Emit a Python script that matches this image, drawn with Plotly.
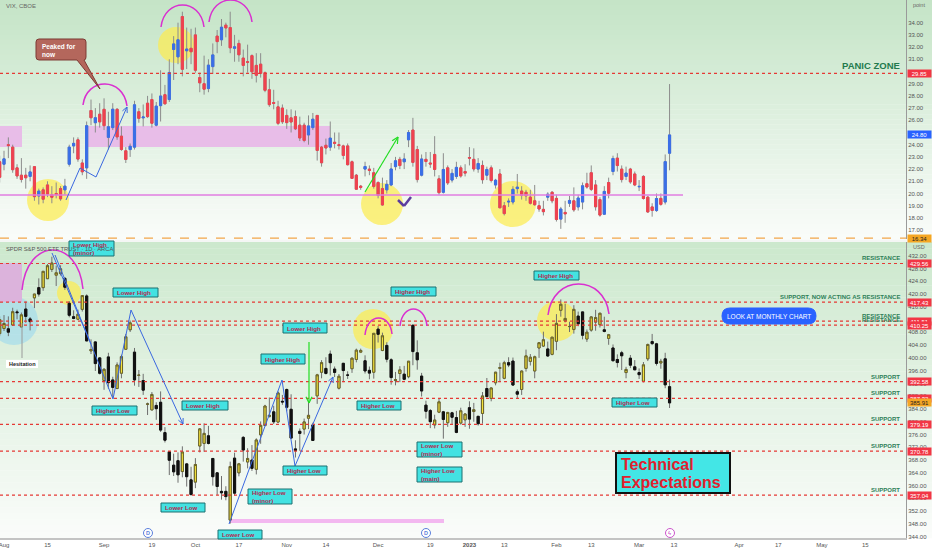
import math
import pandas as pd
import plotly.graph_objects as go

# ---------------- calendar ----------------
holidays = ["2022-09-05", "2022-11-24", "2022-12-26", "2023-01-02", "2023-01-16",
            "2023-02-20", "2023-04-07", "2023-05-29"]
days = pd.bdate_range("2022-07-29", "2023-05-31")
days = days[~days.isin(pd.to_datetime(holidays))]

tick_dates = ["2022-08-01", "2022-08-15", "2022-09-01", "2022-09-19", "2022-10-03", "2022-10-17",
              "2022-11-01", "2022-11-14", "2022-12-01", "2022-12-19", "2023-01-03", "2023-01-13",
              "2023-02-01", "2023-02-13", "2023-03-01", "2023-03-13", "2023-04-03", "2023-04-17",
              "2023-05-01", "2023-05-15"]
tick_text = ["Aug", "15", "Sep", "19", "Oct", "17", "Nov", "14", "Dec", "19", "<b>2023</b>", "13",
             "Feb", "13", "Mar", "13", "Apr", "17", "May", "15"]

# ---------------- VIX (Jul 29 2022 .. Mar 10 2023) ----------------
vix_open = [22.6,
    22.4, 24.0, 23.8, 22.1, 21.5, 21.5, 21.4, 22.2, 19.8, 20.3, 20.7, 19.9, 20.0, 20.4, 20.3, 22.4, 23.9, 24.4, 22.5, 22.1, 26.8, 25.8, 26.5,
    26.9, 24.6, 25.4, 26.9, 24.7, 23.5, 23.6, 23.8, 26.7, 26.2, 27.4, 27.7, 25.6, 27.2, 28.1, 27.7, 31.8, 31.2, 34.5, 31.7, 31.9,
    33.0, 29.5, 29.0, 28.6, 30.4, 32.9, 32.6, 33.8, 33.6, 31.9, 32.3, 31.1, 30.8, 31.3, 30.5, 30.6, 29.9, 28.5, 27.45, 27.1, 27.0,
    26.4, 26.2, 26.3, 25.6, 25.6, 24.8, 25.4, 26.4, 23.8, 23.95, 23.8, 24.2, 24.0, 23.9, 23.9, 22.6, 21.5, 20.6, 22.0, 22.0, 21.7,
    20.9, 20.4, 20.3, 20.7, 22.2, 22.8, 22.6, 24.4, 25.2, 23.6, 21.5, 22.8, 22.5, 23.2, 21.2, 20.1, 22.1, 21.1, 21.4, 22.1, 21.8,
    22.95, 22.8, 22.0, 22.3, 21.5, 22.1, 20.7, 21.6, 19.0, 19.3, 19.3, 20.4, 20.2, 20.1, 19.7, 19.4, 19.0, 18.7, 19.7, 20.1,
    19.6, 17.9, 18.45, 19.2, 19.4, 18.9, 19.3, 20.8, 21.7, 20.7, 19.5, 18.3, 20.9, 21.8, 22.9, 22.0, 21.4, 22.0, 21.6,
    20.55, 21.4, 19.7, 18.9, 18.6, 19.6, 19.3, 23.3]
vix_high = [23.1,
    23.5, 24.6, 24.0, 22.4, 22.9, 22.1, 22.3, 22.2, 20.4, 20.5, 21.0, 20.6, 20.9, 20.6, 21.2, 24.0, 24.6, 24.6, 22.8, 25.9, 27.7, 27.0, 27.4,
    27.8, 26.7, 27.4, 27.0, 25.5, 23.8, 24.1, 27.6, 27.0, 27.3, 28.0, 28.2, 27.5, 30.1, 28.9, 31.0, 32.9, 34.0, 34.9, 33.6, 33.5,
    33.6, 29.9, 31.3, 31.0, 32.3, 33.4, 34.3, 34.0, 34.9, 33.0, 32.6, 31.8, 32.2, 31.4, 31.5, 31.5, 30.0, 29.4, 28.5, 27.6, 27.3,
    26.9, 26.9, 26.8, 26.3, 25.8, 26.4, 26.6, 26.4, 23.9, 24.5, 25.9, 25.0, 25.0, 24.0, 24.1, 22.7, 21.6, 20.7, 22.6, 22.3, 22.1,
    21.0, 21.3, 21.1, 22.5, 23.0, 23.0, 23.3, 25.2, 26.2, 23.9, 23.2, 23.4, 23.4, 24.7, 21.5, 23.3, 22.3, 22.0, 22.6, 22.3, 22.4,
    23.8, 23.7, 22.9, 22.7, 22.2, 22.3, 21.2, 22.0, 19.3, 19.6, 20.6, 21.6, 20.6, 20.3, 20.3, 20.7, 19.4, 19.4, 20.1, 20.2,
    19.9, 18.9, 19.4, 19.8, 20.5, 19.9, 20.9, 21.7, 22.3, 21.1, 19.7, 20.6, 21.3, 23.1, 23.3, 22.3, 22.2, 22.1, 21.8,
    21.1, 21.5, 19.8, 19.2, 20.0, 20.0, 23.2, 28.97]
vix_low = [20.9,
    21.9, 22.9, 21.7, 21.2, 20.9, 20.4, 21.0, 19.4, 19.1, 19.2, 19.7, 19.2, 19.6, 19.4, 19.9, 22.2, 23.3, 22.6, 21.5, 21.2, 25.6, 25.0, 25.4,
    25.2, 23.6, 25.2, 24.4, 23.5, 22.5, 23.0, 23.6, 25.8, 25.5, 26.2, 25.4, 25.5, 25.9, 27.3, 27.5, 29.3, 30.6, 29.6, 30.2, 30.6,
    29.9, 28.3, 28.1, 28.3, 29.8, 31.5, 32.1, 32.8, 31.5, 30.8, 30.8, 29.6, 29.9, 29.4, 29.1, 29.5, 28.3, 27.1, 26.9, 25.6, 25.7,
    25.3, 25.0, 25.2, 24.3, 24.2, 24.0, 25.2, 22.7, 22.2, 23.2, 23.5, 23.7, 23.6, 22.8, 22.3, 21.2, 20.3, 20.3, 21.4, 21.5, 20.4,
    19.6, 19.0, 20.0, 20.6, 21.9, 22.0, 22.0, 23.8, 22.2, 20.9, 21.4, 22.2, 22.1, 21.4, 19.9, 20.0, 20.7, 20.9, 21.2, 21.3, 21.4,
    22.3, 21.8, 21.7, 20.8, 21.1, 20.9, 20.4, 18.8, 18.2, 18.9, 19.1, 20.0, 19.5, 19.4, 19.1, 19.0, 18.5, 18.2, 19.4, 19.2,
    17.7, 17.1, 17.6, 18.9, 18.5, 18.6, 18.7, 20.4, 20.2, 18.6, 18.1, 18.3, 19.6, 21.5, 21.8, 20.9, 21.1, 20.8, 20.6,
    20.2, 19.5, 18.4, 18.1, 18.5, 19.0, 19.1, 21.9]
vix_close = [21.33,
    22.84, 23.93, 21.95, 21.44, 21.15, 21.29, 21.77, 19.74, 20.20, 19.53, 19.95, 19.69, 19.90, 19.56, 20.60, 23.80, 24.11, 22.82, 21.78, 25.56, 26.21, 26.21, 25.87,
    25.56, 25.47, 26.91, 24.64, 23.61, 22.79, 23.87, 27.27, 26.16, 26.27, 26.30, 25.76, 27.16, 27.99, 27.35, 29.92, 32.26, 32.60, 30.18, 31.84, 31.62,
    30.10, 29.07, 28.55, 30.52, 31.36, 32.45, 33.63, 33.57, 31.94, 32.02, 31.37, 30.50, 30.76, 29.98, 29.69, 29.85, 28.46, 27.28, 27.39, 25.75, 25.88,
    25.81, 25.86, 25.30, 24.55, 24.35, 25.54, 26.09, 23.53, 22.52, 23.73, 24.54, 24.11, 23.93, 23.12, 22.36, 21.24, 20.35, 20.50, 22.21, 21.89, 20.58,
    19.84, 19.06, 20.75, 22.01, 22.68, 22.29, 22.83, 25.00, 22.55, 21.14, 22.83, 22.62, 22.42, 21.97, 20.07, 21.97, 20.87, 21.65, 22.14, 21.44, 21.67,
    22.90, 22.01, 22.46, 21.13, 21.97, 21.07, 21.09, 18.83, 18.35, 19.36, 20.34, 20.52, 19.85, 19.81, 19.20, 19.08, 18.73, 18.51, 19.94, 19.40,
    17.87, 18.73, 18.33, 19.43, 18.66, 19.63, 20.63, 20.53, 20.34, 18.91, 18.23, 20.17, 20.02, 22.87, 22.29, 21.14, 21.67, 20.95, 20.70,
    20.58, 19.59, 18.49, 18.61, 19.59, 19.11, 22.61, 24.80]

# ---------------- SPY (Jul 29 2022 .. Mar 10 2023) ----------------
spy_open = [407.6,
    409.2, 409.1, 410.3, 414.4, 409.7, 415.3, 412.2, 418.8, 422.0, 422.0, 424.8, 427.7, 425.9, 426.4, 424.9, 417.1, 412.9, 412.1, 415.2, 419.4, 402.2, 405.0, 400.0,
    392.9, 400.3, 393.1, 390.4, 395.2, 402.7, 408.8, 401.8, 394.5, 392.9, 385.5, 383.7, 385.1, 386.1, 376.6, 370.6, 366.4, 367.8, 364.4, 366.8, 361.8,
    361.1, 372.4, 373.2, 375.6, 368.5, 364.0, 358.2, 358.2, 349.2, 368.6, 364.0, 375.1, 367.4, 368.0, 365.1, 375.9, 378.8, 381.6, 383.1, 379.9, 386.4,
    390.1, 383.9, 371.5, 377.0, 377.7, 381.1, 379.0, 388.1, 395.5, 396.7, 401.2, 396.5, 390.5, 398.3, 394.6, 396.6, 399.5, 401.8, 399.1, 396.1, 395.5,
    409.0, 402.3, 403.9, 399.4, 392.9, 395.1, 394.9, 394.1, 410.2, 401.6, 394.3, 385.2, 383.5, 379.0, 383.0, 383.1, 379.7, 382.8, 381.3, 379.6, 380.6,
    384.4, 383.2, 381.7, 382.6, 390.4, 387.3, 392.2, 396.7, 393.6, 398.5, 399.0, 389.4, 390.1, 396.7, 398.9, 395.9, 403.1, 403.7, 402.8, 401.1,
    405.2, 414.9, 411.6, 409.8, 408.9, 413.1, 414.4, 405.9, 408.7, 411.2, 410.4, 408.8, 406.1, 403.1, 399.5, 401.6, 395.4, 399.9, 397.2,
    395.4, 392.7, 399.7, 405.1, 404.4, 398.4, 399.7, 390.99]
spy_high = [413.0,
    413.4, 413.0, 415.7, 415.1, 414.2, 417.6, 412.8, 420.0, 424.9, 427.2, 429.4, 431.7, 428.9, 429.0, 425.3, 417.8, 414.9, 415.1, 419.6, 419.9, 405.8, 405.2, 400.2,
    396.8, 401.6, 394.1, 398.6, 401.0, 407.5, 411.7, 403.1, 396.2, 395.0, 386.0, 389.3, 386.1, 389.5, 378.3, 370.6, 370.0, 370.4, 372.3, 367.1, 365.9,
    368.6, 378.0, 379.5, 378.7, 368.6, 364.2, 363.0, 359.8, 367.5, 370.3, 367.1, 375.5, 371.7, 372.7, 374.8, 380.1, 385.3, 387.6, 385.0, 389.5, 388.4,
    390.4, 388.6, 374.2, 377.9, 381.0, 386.4, 379.7, 395.0, 399.3, 400.2, 402.3, 397.3, 394.95, 398.4, 395.8, 400.1, 402.9, 402.9, 400.8, 397.3, 407.7,
    410.0, 407.9, 404.9, 399.9, 395.6, 397.4, 397.5, 399.0, 410.5, 405.5, 395.3, 386.6, 384.0, 382.2, 387.4, 383.4, 383.1, 383.1, 383.4, 384.4, 382.6,
    386.4, 385.9, 381.8, 389.3, 393.7, 390.7, 395.6, 398.5, 399.1, 400.2, 400.1, 390.1, 396.0, 402.6, 401.2, 400.7, 404.9, 408.2, 405.1, 406.5,
    413.7, 418.3, 416.97, 411.3, 416.5, 414.5, 414.5, 408.9, 412.97, 415.05, 414.1, 412.9, 407.5, 404.2, 401.1, 402.2, 397.2, 400.9, 399.3,
    396.7, 398.7, 404.5, 407.5, 404.7, 399.7, 401.6, 393.2]
spy_low = [406.8,
    408.4, 406.8, 410.0, 412.1, 409.6, 411.0, 408.6, 415.6, 419.2, 421.0, 424.7, 426.9, 422.5, 425.8, 421.3, 412.7, 412.1, 411.8, 414.5, 405.3, 401.2, 395.9, 394.8,
    390.0, 390.3, 387.4, 390.2, 393.6, 402.5, 408.1, 391.3, 390.9, 388.4, 382.1, 383.6, 380.6, 376.8, 373.5, 363.3, 363.0, 360.9, 362.6, 359.7, 357.0,
    359.2, 370.4, 370.6, 372.9, 360.0, 357.1, 355.6, 355.4, 348.1, 356.9, 362.9, 367.5, 365.4, 364.6, 363.5, 373.1, 378.7, 381.4, 379.3, 379.7, 385.3,
    383.3, 374.8, 368.8, 370.9, 376.0, 377.7, 374.0, 385.6, 393.6, 394.8, 394.5, 394.0, 390.1, 392.4, 393.4, 395.3, 398.6, 401.5, 395.1, 393.3, 393.5,
    404.8, 402.1, 398.6, 391.6, 391.4, 392.4, 393.0, 393.6, 397.7, 396.3, 387.9, 381.0, 378.0, 377.9, 382.7, 374.7, 378.4, 379.3, 376.4, 379.1, 378.4,
    377.8, 380.0, 378.8, 379.4, 387.7, 386.4, 391.4, 392.4, 393.3, 397.1, 391.3, 387.3, 388.4, 395.7, 397.6, 393.6, 400.0, 403.4, 400.3, 400.8,
    402.4, 412.9, 411.1, 408.1, 407.6, 409.9, 405.8, 405.0, 408.2, 408.5, 409.5, 408.0, 404.1, 399.0, 397.0, 396.2, 393.6, 396.8, 396.2,
    393.4, 392.3, 399.0, 404.0, 397.6, 396.6, 390.5, 384.3]
spy_close = [411.99,
    410.77, 408.06, 414.45, 414.17, 413.47, 412.99, 411.35, 419.99, 419.99, 427.10, 428.86, 429.70, 426.65, 427.89, 422.14, 413.35, 412.35, 413.67, 419.51, 405.31, 402.63, 398.21, 395.18,
    396.42, 392.24, 390.76, 397.78, 400.38, 406.60, 410.97, 393.10, 394.60, 389.90, 385.56, 388.55, 384.09, 377.39, 374.22, 367.95, 364.31, 363.38, 370.53, 362.79, 357.18,
    366.61, 377.76, 376.35, 373.20, 362.79, 359.72, 357.74, 356.56, 365.97, 357.63, 366.82, 371.13, 368.50, 365.41, 374.29, 378.87, 384.92, 382.02, 379.98, 389.02, 386.21,
    384.52, 374.87, 371.01, 376.35, 379.95, 382.00, 374.13, 394.69, 398.51, 395.12, 398.49, 395.45, 394.24, 396.03, 394.59, 399.90, 402.42, 402.33, 395.91, 395.23, 407.68,
    407.38, 406.91, 399.59, 393.83, 393.16, 396.24, 393.28, 398.95, 401.97, 399.40, 389.63, 383.27, 380.02, 380.54, 386.23, 380.72, 382.91, 381.40, 376.66, 383.44, 382.43,
    380.82, 383.76, 379.38, 388.08, 387.86, 390.58, 395.52, 396.96, 398.50, 397.77, 391.49, 388.64, 395.88, 400.63, 400.20, 400.35, 404.75, 405.68, 400.59, 406.48,
    410.80, 416.78, 412.35, 409.83, 415.19, 410.65, 407.09, 408.04, 412.83, 412.64, 413.98, 408.28, 407.26, 399.09, 398.54, 400.66, 396.38, 397.73, 396.26,
    394.74, 397.81, 404.19, 404.47, 398.27, 398.92, 391.56, 385.91]

vix_ticks = list(range(17, 35))
spy_ticks = list(range(344, 433, 4))
vix_panic = 29.85
vix_last = 24.80
vix_floor = 16.34
spy_levels = [429.56, 417.43, 411.51, 410.25, 392.58, 387.32, 379.19, 370.78, 357.04]
spy_level_notes = ["RESISTANCE", "SUPPORT, NOW ACTING AS RESISTANCE", "RESISTANCE", "RESISTANCE",
                   "SUPPORT", "SUPPORT", "SUPPORT", "SUPPORT", "SUPPORT"]
spy_last = 385.91

# ---------------- geometry ----------------
W, H = 932, 550
ML, MR, MT, MB = 0, 26, 0, 12
PW, PH = W - ML - MR, H - MT - MB
X0PX, DXPX = 4.0, 4.35          # pixel of Aug 1 and pixels per trading day
TOP_BOT, BOT_TOP = 239, 242


def px(x):
    return x / PW


def py(y):
    return 1 - y / PH


def idx_at(p):
    return (p - X0PX) / DXPX + 1


n = len(vix_close)
xs = list(range(n))
pos_of = {d: i for i, d in enumerate(days)}
tickvals = [pos_of[pd.Timestamp(d)] for d in tick_dates]

shapes = []
annos = []
FONT = "Liberation Sans, Arial, sans-serif"


def grad(y_top, y_bot, c_top, c_bot, steps=48):
    for k in range(steps):
        t = (k + 0.5) / steps
        c = tuple(int(round(a + (b - a) * t)) for a, b in zip(c_top, c_bot))
        ya = y_top + (y_bot - y_top) * k / steps
        yb = y_top + (y_bot - y_top) * (k + 1) / steps
        shapes.append(dict(type="rect", xref="paper", yref="paper", x0=0, x1=W / PW,
                           y0=py(yb + 0.3), y1=py(ya), fillcolor="rgb(%d,%d,%d)" % c,
                           line=dict(width=0), layer="below"))


grad(0, TOP_BOT, (196, 228, 198), (250, 252, 250))
grad(BOT_TOP, PH, (204, 232, 205), (250, 252, 250))
shapes.append(dict(type="rect", xref="paper", yref="paper", x0=0, x1=W / PW, y0=py(BOT_TOP),
                   y1=py(TOP_BOT + 0.5), fillcolor="#f4f6f4", line=dict(width=0), layer="below"))


def rect(x0, y0, x1, y1, fill, line=None, lw=0, layer="below"):
    shapes.append(dict(type="rect", xref="paper", yref="paper", x0=px(x0), x1=px(x1),
                       y0=py(y1), y1=py(y0), fillcolor=fill,
                       line=dict(color=line or fill, width=lw), layer=layer))


def circle(cx, cy, r, fill, line=None, lw=0, layer="below"):
    shapes.append(dict(type="circle", xref="paper", yref="paper", x0=px(cx - r), x1=px(cx + r),
                       y0=py(cy + r), y1=py(cy - r), fillcolor=fill,
                       line=dict(color=line or fill, width=lw), layer=layer))


def seg(x0, y0, x1, y1, color, width=1.0, dash="solid"):
    shapes.append(dict(type="line", xref="paper", yref="paper", x0=px(x0), y0=py(y0),
                       x1=px(x1), y1=py(y1), line=dict(color=color, width=width, dash=dash)))


def polyline(pts, color, width=1.0):
    for (a, b), (c, d) in zip(pts[:-1], pts[1:]):
        seg(a, b, c, d, color, width)


def arrowhead(x0, y0, x1, y1, color, width=1.0, head=6.0):
    ang = math.atan2(y1 - y0, x1 - x0)
    for s in (1, -1):
        a = ang + math.pi - s * 0.45
        seg(x1, y1, x1 + head * math.cos(a), y1 + head * math.sin(a), color, width)


def path(cmds, fill=None, line="#000", lw=1.0, layer="above"):
    parts = []
    for c in cmds:
        op, coords = c[0], c[1:]
        pts = " ".join("%.5f,%.5f" % (px(coords[i]), py(coords[i + 1])) for i in range(0, len(coords), 2))
        parts.append(op + " " + pts if pts else op)
    d = dict(type="path", xref="paper", yref="paper", path=" ".join(parts),
             line=dict(color=line, width=lw), layer=layer)
    if fill:
        d["fillcolor"] = fill
    shapes.append(d)


def arc(x0, y0, xp, yp, x1, y1, color="#d930d0", lw=1.5):
    yc = (8 * yp - y0 - y1) / 6
    w = x1 - x0
    path([("M", x0, y0), ("C", x0 + 0.08 * w, yc, x1 - 0.08 * w, yc, x1, y1)], line=color, lw=lw)


def text(x, y, s, size=6, color="#333", bold=False, xanchor="left", yanchor="middle", align="left"):
    annos.append(dict(xref="paper", yref="paper", x=px(x), y=py(y), text=("<b>%s</b>" % s) if bold else s,
                      showarrow=False, xanchor=xanchor, yanchor=yanchor, align=align,
                      font=dict(family=FONT, size=size, color=color)))


# ---------- background zones (below candles) ----------
YEL = "rgba(252,236,80,0.72)"
# VIX
rect(0, 126, 22, 147, "#e8bde8")
rect(85, 126, 330, 147, "#e8bde8")
circle(48, 200, 21, YEL)
circle(176, 45, 18, YEL)
circle(382, 204, 21, YEL)
circle(513, 204, 23, YEL)
# SPY
circle(14, 321, 24, "rgba(150,215,240,0.55)")
rect(0, 263, 22, 302, "#dcb3dc")
rect(230, 519, 444, 523, "#f3b8f0")
circle(69, 293, 12, YEL)
circle(373, 329, 20, YEL)
circle(557, 321, 20, YEL)

# ---------- price level lines ----------
RED = "#e53935"
shapes.append(dict(type="line", xref="paper", yref="y2", x0=0, x1=1, y0=vix_panic, y1=vix_panic,
                   line=dict(color=RED, width=1.2, dash="dot")))
shapes.append(dict(type="line", xref="paper", yref="y2", x0=0, x1=1, y0=vix_floor, y1=vix_floor,
                   line=dict(color="#f2a54a", width=1.3, dash="dash")))
for lv in spy_levels:
    shapes.append(dict(type="line", xref="paper", yref="y", x0=0, x1=1, y0=lv, y1=lv,
                       line=dict(color=RED, width=1.2, dash="dot")))
seg(0, 195, 683, 195, "#e07ee0", 1.5)

# ---------- drawings ----------
BLUE = "#3a68e0"
# VIX zigzag + arrows
polyline([(66, 200), (80, 168), (96, 177), (127, 107)], BLUE, 1.0)
arrowhead(96, 177, 127, 107, BLUE, 1.0, 6)
seg(365, 192, 398, 137, "#22dd22", 1.2)
arrowhead(365, 192, 398, 137, "#22dd22", 1.2, 7)
polyline([(398, 200), (404, 206), (411, 197)], "#5b3c9e", 2.5)
# VIX arcs
arc(83, 105, 105, 84, 127, 106)
arc(161, 27, 183, 5, 204, 27)
arc(209, 22, 230, 0, 252, 22)
# SPY arcs
arc(22, 290, 50, 250, 83, 289)
arc(365, 335, 379, 318, 392, 334)
arc(400, 326, 414, 309, 427, 326)
arc(548, 315, 578, 284, 609, 314)
# SPY zigzags
seg(52, 253, 91, 344, BLUE, 1.0)
polyline([(55, 255), (113, 399), (131, 310), (183, 424)], BLUE, 1.0)
arrowhead(131, 310, 183, 424, BLUE, 1.0, 6)
polyline([(229, 524), (282, 380), (295, 466), (333, 377)], BLUE, 1.0)
arrowhead(295, 466, 333, 377, BLUE, 1.0, 6)
seg(309, 342, 309, 403, "#22dd22", 1.2)
arrowhead(309, 342, 309, 403, "#22dd22", 1.2, 7)
# Hesitation
seg(22, 323, 22, 358, "#9a9a9a", 1.0)
rect(6, 360, 38, 368, "white", layer="above")
text(22, 364, "Hesitation", 5.5, "#222", True, xanchor="center")

# "Peaked for now" callout
path([("M", 39, 39), ("L", 83, 39), ("Q", 86, 39, 86, 42), ("L", 86, 57), ("Q", 86, 60, 84, 60),
      ("L", 100, 89), ("L", 77, 60), ("L", 39, 60), ("Q", 36, 60, 36, 57), ("L", 36, 42),
      ("Q", 36, 39, 39, 39), ("Z",)], fill="#b4675c", line="#7d3b35", lw=1)
annos.append(dict(xref="paper", yref="paper", x=px(40), y=py(41), text="<b>Peaked for<br>now</b>",
                  showarrow=False, xanchor="left", yanchor="top", align="left",
                  font=dict(family=FONT, size=6.5, color="white")))

# cyan labels
CY_FILL, CY_LINE, CY_TXT = "#43e2e2", "#1c7070", "#b5294e"
boxes = [
    (69, 114, 241, 256, "Lower High<br>(minor)"),
    (113, 158, 288, 297, "Lower High"),
    (283, 327, 323, 333, "Lower High"),
    (261, 305, 354, 364, "Higher High"),
    (92, 137, 406, 415, "Higher Low"),
    (182, 228, 401, 410, "Lower High"),
    (161, 205, 503, 512, "Lower Low"),
    (218, 262, 530, 539, "Lower Low"),
    (248, 292, 489, 504, "Higher Low<br>(minor)"),
    (283, 327, 466, 475, "Higher Low"),
    (357, 401, 401, 410, "Higher Low"),
    (417, 462, 442, 457, "Lower Low<br>(minor)"),
    (417, 462, 467, 482, "Higher Low<br>(main)"),
    (391, 436, 287, 296, "Higher High"),
    (534, 579, 271, 280, "Higher High"),
    (612, 657, 398, 407, "Higher Low"),
]
for x0, x1, y0, y1, s in boxes:
    rect(x0, y0, x1, y1, CY_FILL, CY_LINE, 1, layer="above")
    text(x0 + 1.5, (y0 + y1) / 2 + 0.3, s, 6.2, CY_TXT, True)

# Technical Expectations
rect(616, 453, 730, 493, "#43e6e6", "#111111", 2, layer="above")
text(619, 464, "Technical", 16, "#e0202e", True)
text(619, 482, "Expectations", 16, "#e0202e", True)

# LOOK AT MONTHLY CHART pill
path([("M", 730, 308), ("L", 808, 308), ("Q", 816, 308, 816, 316), ("Q", 816, 324, 808, 324),
      ("L", 730, 324), ("Q", 722, 324, 722, 316), ("Q", 722, 308, 730, 308), ("Z",)],
     fill="#2962ff", line="#2962ff", lw=1)
text(769, 316.3, "LOOK AT MONTHLY CHART", 6.5, "white", xanchor="center")

# level notes
GREEN = "#2f8058"
text(902, 65.5, "PANIC ZONE", 9.5, "#237a4e", True, xanchor="right")
for lv, note in zip(spy_levels, spy_level_notes):
    annos.append(dict(xref="paper", yref="y", x=px(902), y=lv, yshift=5, text="<b>%s</b>" % note,
                      showarrow=False, xanchor="right", yanchor="middle",
                      font=dict(family=FONT, size=6, color=GREEN)))


# price tags on the axis
def tag(yref, val, bg, fg="white"):
    annos.append(dict(xref="paper", yref=yref, x=px(907), y=val, text="%.2f" % val, showarrow=False,
                      xanchor="left", yanchor="middle", bgcolor=bg, borderpad=0.5, width=22,
                      font=dict(family=FONT, size=6, color=fg)))


tag("y2", vix_panic, "#f23645")
tag("y2", vix_last, "#2962ff")
tag("y2", vix_floor, "#f5a623", "#222")
for lv in spy_levels:
    tag("y", lv, "#f23645")
tag("y", spy_last, "#f5a623", "#222")

# headers
text(4, 6, "VIX, CBOE", 6, "#666")
text(4, 248.5, "SPDR S&amp;P 500 ETF TRUST · 1D · ARCA", 5.8, "#555")
text(911, 5, "point", 5.5, "#666")
text(911, 247, "USD", 5.5, "#666")

# event icons
for cx in (148, 426):
    circle(cx, 533, 4.5, "white", "#5b7fdc", 1, layer="above")
    text(cx, 533.3, "D", 5.5, "#5b7fdc", True, xanchor="center")
circle(670, 533, 4.5, "white", "#cc55cc", 1, layer="above")
text(670, 533.3, "ϟ", 6, "#cc55cc", True, xanchor="center")


# ---------- candles ----------
def candles(o, h, l, c, xaxis, yaxis, up_fill, up_line, dn_fill, dn_line, wick):
    hh = [max(a, b, d) for a, b, d in zip(h, o, c)]
    ll = [min(a, b, d) for a, b, d in zip(l, o, c)]
    bhi = [max(a, b) for a, b in zip(o, c)]
    blo = [min(a, b) for a, b in zip(o, c)]
    t1 = go.Candlestick(x=xs, open=o, high=hh, low=ll, close=c, xaxis=xaxis, yaxis=yaxis,
                        increasing=dict(line=dict(color=wick, width=1), fillcolor=wick),
                        decreasing=dict(line=dict(color=wick, width=1), fillcolor=wick),
                        hoverinfo="skip", showlegend=False)
    t2 = go.Candlestick(x=xs, open=o, high=bhi, low=blo, close=c, xaxis=xaxis, yaxis=yaxis,
                        increasing=dict(line=dict(color=up_line, width=1), fillcolor=up_fill),
                        decreasing=dict(line=dict(color=dn_line, width=1), fillcolor=dn_fill),
                        showlegend=False)
    return [t1, t2]


traces = []
traces += candles(vix_open, vix_high, vix_low, vix_close, "x2", "y2",
                  "#3a6fe8", "#3a6fe8", "#f0424f", "#f0424f", "#8c8c8c")
traces += candles(spy_open, spy_high, spy_low, spy_close, "x", "y",
                  "#f4e23c", "#6a6428", "#111111", "#111111", "#6e6e6e")

fig = go.Figure(traces)

xr = [idx_at(0), idx_at(PW)]
AX_FONT = dict(family=FONT, size=6, color="#555")
fig.update_layout(
    width=W, height=H, margin=dict(l=ML, r=MR, t=MT, b=MB),
    paper_bgcolor="white", plot_bgcolor="rgba(0,0,0,0)", showlegend=False, boxmode="overlay",
    xaxis=dict(domain=[0, 1], range=xr, type="linear", anchor="y", tickvals=tickvals, ticktext=tick_text,
               tickfont=AX_FONT, showgrid=False, zeroline=False, showline=True, linecolor="#c4c4c4",
               linewidth=1.5, ticks="", rangeslider=dict(visible=False), fixedrange=True,
               ticklabeloverflow="allow"),
    xaxis2=dict(domain=[0, 1], range=xr, type="linear", anchor="y2", matches="x", showticklabels=False,
                showgrid=False, zeroline=False, showline=False, ticks="", rangeslider=dict(visible=False)),
    yaxis=dict(domain=[0, 1 - BOT_TOP / PH], range=[343.59, 436.29], side="right", anchor="x",
               tickvals=spy_ticks, tickformat=".2f", tickfont=AX_FONT, showgrid=False, zeroline=False,
               showline=True, linecolor="#9a9a9a", linewidth=1, ticks=""),
    yaxis2=dict(domain=[1 - TOP_BOT / PH, 1], range=[16.27, 35.86], side="right", anchor="x2",
                tickvals=vix_ticks, tickformat=".2f", tickfont=AX_FONT, showgrid=False, zeroline=False,
                showline=True, linecolor="#9a9a9a", linewidth=1, ticks=""),
    shapes=shapes, annotations=annos,
)

fig.write_html("out.html", config={"displayModeBar": False},
               post_script="document.body.style.margin='0px';document.body.style.overflow='hidden';")
